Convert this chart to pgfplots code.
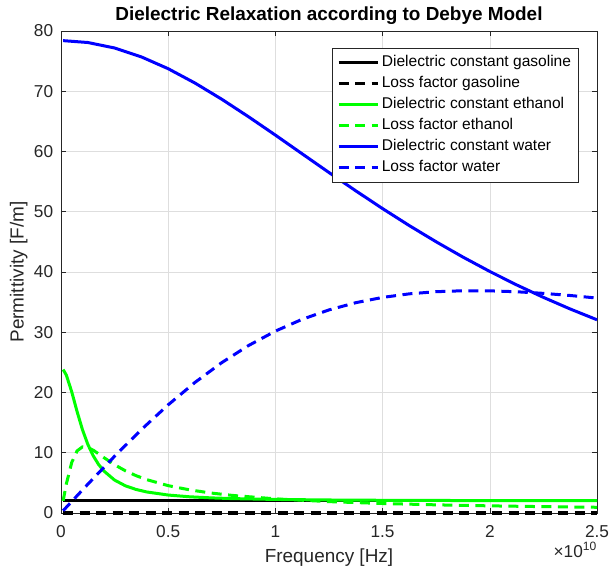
\documentclass[border=0pt]{standalone}
\usepackage{fontspec}
\setmainfont{Liberation Sans}
\usepackage{pgfplots}
\pgfplotsset{compat=1.18}
\definecolor{axgray}{rgb}{0.15,0.15,0.15}
\definecolor{gridgray}{rgb}{0.87,0.87,0.87}
\definecolor{mgreen}{rgb}{0,1,0}
\definecolor{mblue}{rgb}{0,0,1}
\begin{document}
\begin{tikzpicture}
\useasboundingbox (-61bp,-61bp) rectangle (548bp,513bp);
\begin{axis}[
  scale only axis, width=536bp, height=482bp,
  at={(0,0)}, anchor=south west,
  xmin=0, xmax=2.5, ymin=0, ymax=80,
  xtick={0,0.5,1,1.5,2,2.5}, xticklabels={0,0.5,1,1.5,2,2.5},
  ytick={0,10,20,30,40,50,60,70,80},
  /pgf/number format/assume math mode=true,
  grid=major, major grid style={gridgray, line width=0.6pt},
  axis line style={axgray, line width=0.6pt},
  tick style={axgray, line width=0.6pt},
  tick align=inside, major tick length=5bp,
  ticklabel style={font=\fontsize{17.3}{20}\selectfont, text=axgray},
  xticklabel style={anchor=base, inner sep=0pt, yshift=-24.7bp},
  yticklabel style={anchor=east, inner sep=0pt, xshift=-7.7bp},
  xlabel={Frequency [Hz]},
  xlabel style={at={(axis description cs:0.5,-0.1037)}, anchor=base, font=\fontsize{19}{22}\selectfont, text=axgray},
  ylabel={Permittivity [F/m]},
  ylabel style={at={(axis description cs:-0.0698,0.5)}, anchor=base, rotate=0, font=\fontsize{19}{22}\selectfont, text=axgray},
  title={\bfseries Dielectric Relaxation according to Debye Model},
  title style={at={(axis description cs:0.5,1.0104)}, anchor=base, font=\fontsize{19}{22}\selectfont, inner sep=0pt},
  clip=false,
  legend cell align=left,
  legend image code/.code={\draw[#1] (0bp,0bp) -- (39bp,0bp);},
  legend style={at={(axis description cs:0.9664,0.9647)}, anchor=north east,
    draw=axgray, line width=0.6pt, inner xsep=5bp, inner ysep=4bp,
    font=\fontsize{15.6}{18}\selectfont, row sep=0pt,
    nodes={text height=12bp, text depth=3.7bp, inner sep=2.65bp}},
]
\addplot[black, line width=3bp] coordinates {(0.01,2) (2.5,2)};
\addlegendentry{Dielectric constant gasoline}
\addplot[black, line width=3bp, dash pattern=on 10bp off 6.5bp] coordinates {(0.01,0) (2.5,0)};
\addlegendentry{Loss factor gasoline}
\addplot[mgreen, line width=3bp] coordinates {
(0.01,23.81) (0.025,22.88) (0.05,20.12) (0.075,16.84) (0.1,13.84) (0.125,11.40)
(0.15,9.51) (0.175,8.07) (0.2,6.97) (0.25,5.46) (0.3,4.52) (0.35,3.91)
(0.4,3.49) (0.5,2.98) (0.6,2.69) (0.7,2.51) (0.8,2.39) (1.0,2.25)
(1.25,2.16) (1.5,2.11) (1.75,2.08) (2.0,2.06) (2.25,2.05) (2.5,2.04)};
\addlegendentry{Dielectric constant ethanol}
\addplot[mgreen, line width=3bp, dash pattern=on 10bp off 6.5bp] coordinates {
(0.01,2.020) (0.025,4.834) (0.05,8.387) (0.075,10.307) (0.1,10.968) (0.125,10.883)
(0.15,10.432) (0.175,9.832) (0.2,9.198) (0.25,8.009) (0.3,7.011) (0.35,6.199)
(0.4,5.536) (0.5,4.540) (0.6,3.836) (0.7,3.315) (0.8,2.917) (1.0,2.349)
(1.25,1.887) (1.5,1.576) (1.75,1.353) (2.0,1.185) (2.25,1.054) (2.5,0.949)};
\addlegendentry{Loss factor ethanol}
\addplot[mblue, line width=3bp] coordinates {
(0.01,78.40) (0.125,78.09) (0.25,77.18) (0.375,75.70) (0.5,73.74) (0.625,71.36)
(0.75,68.67) (0.875,65.76) (1.0,62.72) (1.125,59.61) (1.25,56.51) (1.375,53.47)
(1.5,50.52) (1.625,47.69) (1.75,45.01) (1.875,42.47) (2.0,40.09) (2.125,37.86)
(2.25,35.79) (2.375,33.86) (2.5,32.07)};
\addlegendentry{Dielectric constant water}
\addplot[mblue, line width=3bp, dash pattern=on 10bp off 6.5bp] coordinates {
(0.01,0.383) (0.125,4.773) (0.25,9.425) (0.375,13.851) (0.5,17.957) (0.625,21.676)
(0.75,24.964) (0.875,27.802) (1.0,30.191) (1.125,32.150) (1.25,33.708) (1.375,34.906)
(1.5,35.781) (1.625,36.377) (1.75,36.733) (1.875,36.887) (2.0,36.873) (2.125,36.720)
(2.25,36.456) (2.375,36.100) (2.5,35.674)};
\addlegendentry{Loss factor water}
\node[anchor=base east, inner sep=0pt, text=axgray, font=\fontsize{17.3}{20}\selectfont]
  at (axis description cs:1,-0.0913) {×10\textsuperscript{10}};
\end{axis}
\end{tikzpicture}
\end{document}
